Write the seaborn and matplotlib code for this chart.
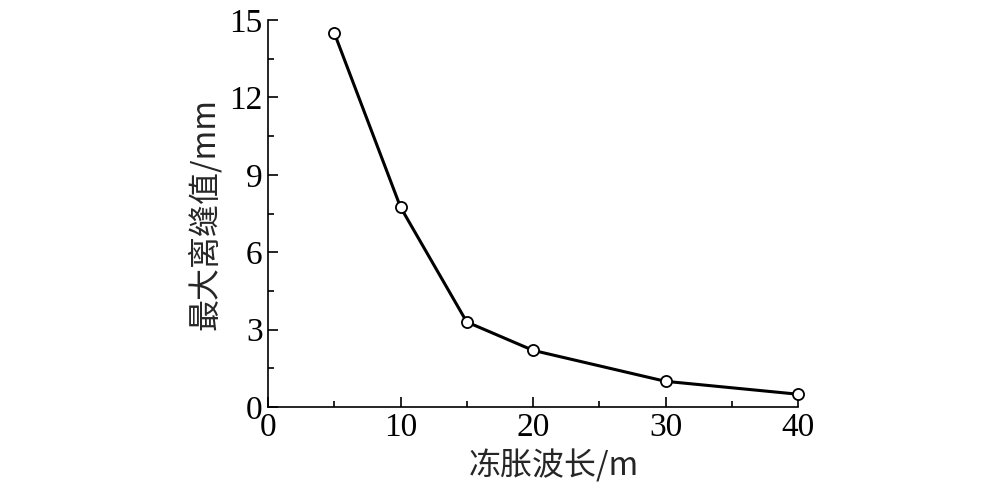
import matplotlib
matplotlib.use("Agg")
import matplotlib.pyplot as plt
import pandas as pd
import seaborn as sns
from matplotlib.ticker import MultipleLocator

wavelength = [5, 10, 15, 20, 30, 40]
max_gap = [14.5, 7.75, 3.3, 2.2, 1.0, 0.5]

x_ticks = [0, 10, 20, 30, 40]
y_ticks = [0, 3, 6, 9, 12, 15]

sns.set_style("ticks")
plt.rcParams["font.family"] = ["Liberation Serif", "Noto Sans CJK SC"]

df = pd.DataFrame({"wavelength": wavelength, "max_gap": max_gap})

fig = plt.figure(figsize=(10, 4.87), dpi=100)
ax = fig.add_axes([0.268, 0.164, 0.530, 0.795])
sns.lineplot(data=df, x="wavelength", y="max_gap", ax=ax, color="black", lw=2.2,
             marker="o", markersize=8, markerfacecolor="white",
             markeredgecolor="black", markeredgewidth=1.3, clip_on=False)

ax.set_xlim(0, 40)
ax.set_ylim(0, 15)
ax.set_xticks(x_ticks)
ax.set_yticks(y_ticks)
ax.xaxis.set_minor_locator(MultipleLocator(5))
ax.yaxis.set_minor_locator(MultipleLocator(1.5))
ax.tick_params(which="both", direction="in", width=1.2, colors="black", labelsize=24)
ax.tick_params(which="major", length=7, pad=4)
ax.tick_params(which="minor", length=4)
for s in ["top", "right"]:
    ax.spines[s].set_visible(False)
for s in ["left", "bottom"]:
    ax.spines[s].set_linewidth(1.2)
    ax.spines[s].set_color("black")

ax.set_xlabel("冻胀波长/m", fontsize=23, family=["Noto Sans CJK SC"], labelpad=2)
ax.xaxis.set_label_coords(0.54, -0.11)
ax.set_ylabel("最大离缝值/mm", fontsize=23, family=["Noto Sans CJK SC"], labelpad=6)

fig.savefig("out.png", dpi=100)
